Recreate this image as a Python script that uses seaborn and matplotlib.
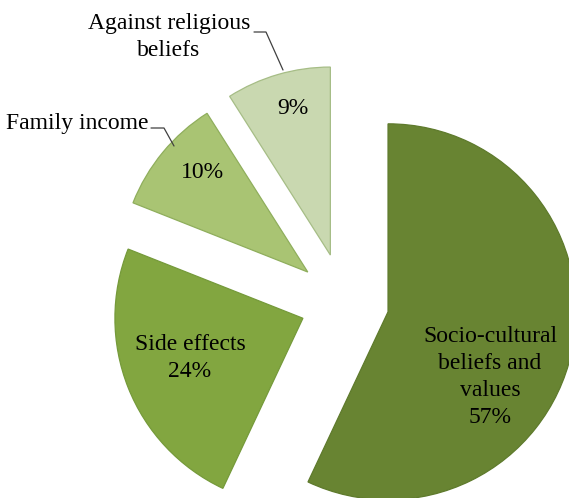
import matplotlib
matplotlib.use("Agg")
import matplotlib.pyplot as plt
import seaborn as sns

# ---- data ----
categories = ["Socio-cultural\nbeliefs and\nvalues", "Side effects", "Family income", "Against religious\nbeliefs"]
values = [57, 24, 10, 9]
pct_labels = ["57%", "24%", "10%", "9%"]

# ---- style ----
colors = ["#688432", "#82A640", "#A9C473", "#C9D8B0"]
edges = ["#5E7A2C", "#759A3A", "#8FAE5C", "#A6BD86"]
explode = [0.24, 0.235, 0.25, 0.26]

sns.set_theme(style="white")
plt.rcParams["font.family"] = ["Liberation Serif", "DejaVu Serif"]

W, H = 569, 498
fig = plt.figure(figsize=(W / 100, H / 100), dpi=100)
ax = fig.add_axes([0, 0, 1, 1])

# pixel geometry of the (unexploded) pie centre and radius
cx, cy, R = 344, 302, 188

def px(x, y):
    return ((x - cx) / R, (cy - y) / R)

wedges, _ = ax.pie(values, colors=colors, startangle=90, counterclock=False,
                   explode=explode, radius=1, center=(0, 0),
                   wedgeprops=dict(linewidth=0.9))
for w, ec in zip(wedges, edges):
    w.set_edgecolor(ec)

ax.set_xlim(-cx / R, (W - cx) / R)
ax.set_ylim((cy - H) / R, cy / R)
ax.axis("off")

fs = 17
ls = 1.36
# inside labels
ax.text(*px(490, 377), categories[0] + "\n" + pct_labels[0], ha="center", va="center",
        fontsize=fs, linespacing=ls, color="black")
ax.text(*px(190, 358), categories[1] + "\n" + pct_labels[1], ha="center", va="center",
        fontsize=fs, linespacing=ls, color="black")
ax.text(*px(202, 172), pct_labels[2], ha="center", va="center", fontsize=fs, color="black")
ax.text(*px(293, 108), pct_labels[3], ha="center", va="center", fontsize=fs, color="black")

# outside labels with leader lines
ax.text(*px(148, 123), categories[2], ha="right", va="center", fontsize=fs, color="black")
ax.plot(*zip(px(151, 128), px(164, 128), px(174, 146)), color="#404040", lw=0.9)

ax.text(*px(169, 37), categories[3], ha="center", va="center", fontsize=fs,
        linespacing=ls, color="black")
ax.plot(*zip(px(254, 32), px(266, 32), px(283, 70)), color="#404040", lw=0.9)

fig.savefig("out.png", dpi=100)
